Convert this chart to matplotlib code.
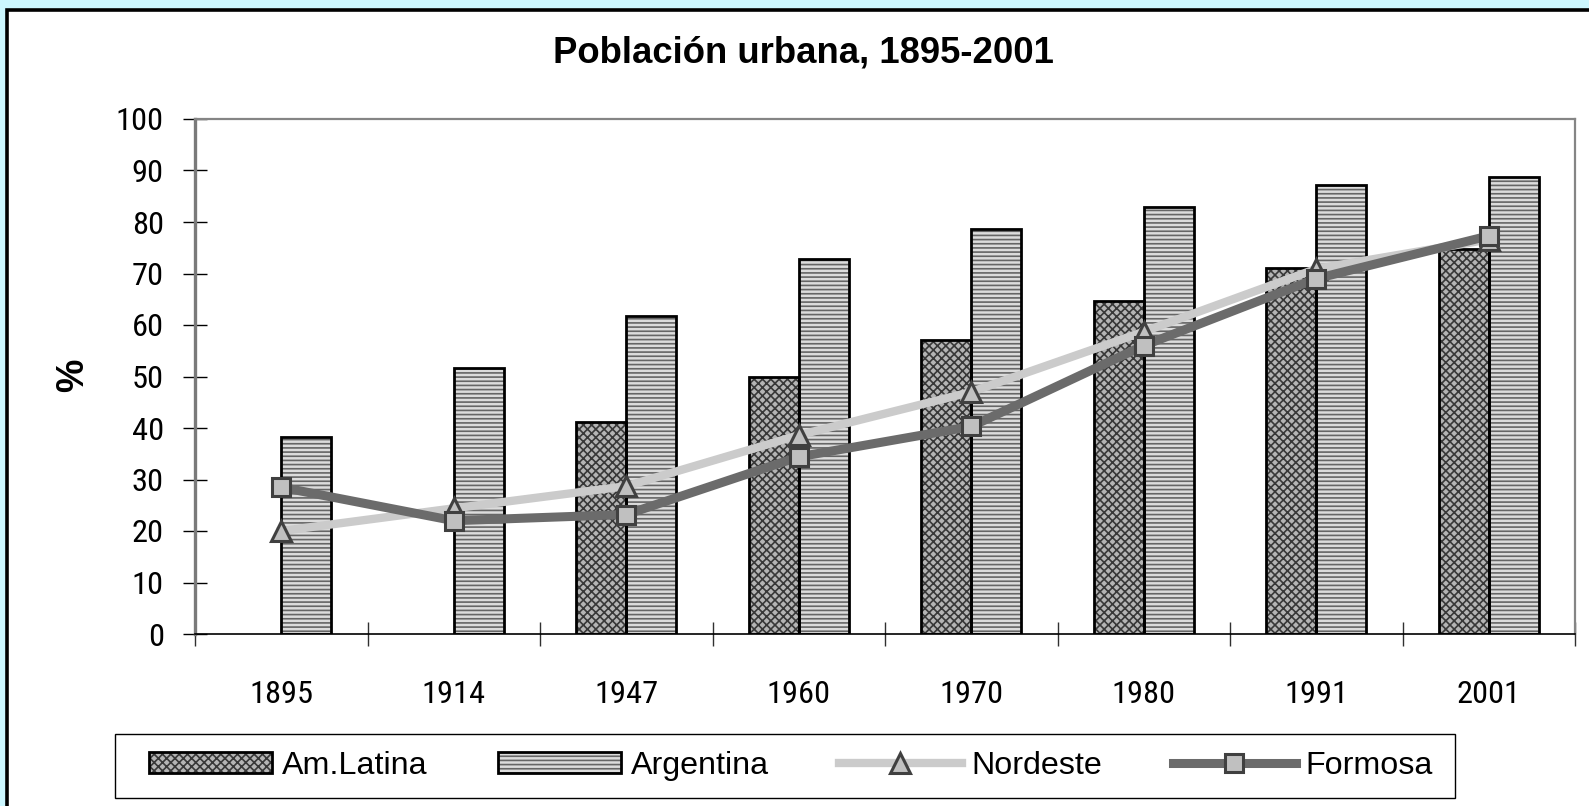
import os
import numpy as np
import matplotlib
matplotlib.use("Agg")
import matplotlib.pyplot as plt
from matplotlib import font_manager as fm
from matplotlib.textpath import TextPath
from matplotlib.patches import Rectangle, Patch
from matplotlib.lines import Line2D
from matplotlib.legend_handler import HandlerTuple

# ---------------- data ----------------
years = ['1895', '1914', '1947', '1960', '1970', '1980', '1991', '2001']
am_latina = [np.nan, np.nan, 41.1, 50.0, 57.0, 64.6, 71.0, 74.7]
argentina = [38.3, 51.7, 61.8, 72.9, 78.6, 82.9, 87.1, 88.8]
nordeste = [20.0, 24.4, 28.7, 38.6, 47.0, 58.7, 70.9, 76.6]
formosa = [28.5, 22.0, 23.2, 34.4, 40.3, 56.0, 69.0, 77.3]
series_names = ['Am.Latina', 'Argentina', 'Nordeste', 'Formosa']
title = 'Población urbana, 1895-2001'
y_ticks = list(range(0, 101, 10))

# ---------------- fonts ----------------
W, H = 1589, 806
DPI = 100


def pick_narrow():
    prefs = ['liberationsansnarrow-regular', 'arialn.', 'arial narrow',
             'robotocondensed-regular', 'roboto-condensed', 'opensanscondensed',
             'notosans-condensed.', 'dejavusanscondensed.']
    files = [e.fname for e in fm.fontManager.ttflist]
    for p in prefs:
        for f in files:
            if p in os.path.basename(f).lower():
                return fm.FontProperties(fname=f)
    return fm.FontProperties(family='Liberation Sans')


NARROW = pick_narrow()
REGULAR = fm.FontProperties(family=['Liberation Sans', 'DejaVu Sans'])


def fit_size(text, target_px, prop):
    w = TextPath((0, 0), text, size=100, prop=prop).get_extents().width
    return 100 * (target_px * 72 / DPI) / w


tick_size = min(fit_size('1895', 60, NARROW), 24)
leg_size = min(fit_size('Am.Latina', 145, REGULAR), 26)
tick_fp = NARROW.copy()
tick_fp.set_size(tick_size)
leg_fp = REGULAR.copy()
leg_fp.set_size(leg_size)

ARIAL = ['Liberation Sans', 'DejaVu Sans']
plt.rcParams['hatch.linewidth'] = 1.2

fig = plt.figure(figsize=(W / DPI, H / DPI), dpi=DPI, facecolor='#CCF7FF')

# white chart area with black border (extends off right/bottom)
fig.add_artist(Rectangle((7 / W, -0.2), 1.2, 1 - 10 / H + 0.2,
                         transform=fig.transFigure, facecolor='white',
                         edgecolor='black', linewidth=2.6, zorder=0))

ax = fig.add_axes([195 / W, 1 - 634 / H, (1575 - 195) / W, (634 - 119) / H])
ax.set_facecolor('none')
ax.set_zorder(2)

x = np.arange(len(years))
bw = 0.29

lat_face, lat_hatch = '#b4b4b4', '#383838'
arg_face, arg_hatch = '#dcdcdc', '#666666'

ax.bar(x - bw / 2, am_latina, bw, color=lat_face, edgecolor=lat_hatch,
       linewidth=0, hatch='xxxx', zorder=2)
ax.bar(x - bw / 2, am_latina, bw, fill=False, edgecolor='black',
       linewidth=2.0, zorder=3)
ax.bar(x + bw / 2, argentina, bw, color=arg_face, edgecolor=arg_hatch,
       linewidth=0, hatch='----', zorder=2)
ax.bar(x + bw / 2, argentina, bw, fill=False, edgecolor='black',
       linewidth=2.0, zorder=3)

nord_col = '#cbcbcb'
form_col = '#6b6b6b'
mface, medge = '#c0c0c0', '#404040'
nord_style = dict(color=nord_col, linewidth=6.0, marker='^', markersize=15,
                  markerfacecolor=mface, markeredgecolor=medge,
                  markeredgewidth=2.2)
form_style = dict(color=form_col, linewidth=6.5, marker='s', markersize=13,
                  markerfacecolor=mface, markeredgecolor=medge,
                  markeredgewidth=2.2)
ax.plot(x, nordeste, zorder=4, solid_joinstyle='round', **nord_style)
ax.plot(x, formosa, zorder=5, solid_joinstyle='round', **form_style)

ax.set_xlim(-0.5, len(years) - 0.5)
ax.set_ylim(0, 100)
ax.set_yticks(y_ticks)
ax.set_yticklabels([str(v) for v in y_ticks], fontproperties=tick_fp)
ax.tick_params(axis='y', direction='inout', length=17, width=1.0,
               color='black', pad=14)
ax.set_xticks(x)
ax.set_xticklabels(years, fontproperties=tick_fp)
ax.tick_params(axis='x', which='major', length=0, pad=33)
ax.set_xticks(np.arange(-0.5, len(years)), minor=True)
ax.tick_params(axis='x', which='minor', direction='inout', length=17,
               width=1.0, color='#303030')

ax.spines['left'].set_color('#7a7a7a')
ax.spines['left'].set_linewidth(2.4)
for s in ['top', 'right']:
    ax.spines[s].set_color('#858585')
    ax.spines[s].set_linewidth(1.6)
ax.spines['bottom'].set_color('black')
ax.spines['bottom'].set_linewidth(1.2)
ax.spines['bottom'].set_zorder(6)

# title and y label
fig.text(803 / W, 1 - 63 / H, title, ha='center', va='baseline',
         fontfamily=ARIAL, fontweight='bold', fontsize=26.3)
fig.text(73 / W, 1 - 375 / H, '%', ha='center', va='center', rotation=90,
         fontfamily=ARIAL, fontweight='bold', fontsize=27)

# legend
fig.add_artist(Rectangle((115 / W, 1 - 798 / H), (1455 - 115) / W, 64 / H,
                         transform=fig.transFigure, facecolor='white',
                         edgecolor='black', linewidth=1.0, zorder=1))
h_lat = (Patch(facecolor=lat_face, edgecolor=lat_hatch, linewidth=0, hatch='xxxx'),
         Patch(fill=False, edgecolor='black', linewidth=2.0))
h_arg = (Patch(facecolor=arg_face, edgecolor=arg_hatch, linewidth=0, hatch='----'),
         Patch(fill=False, edgecolor='black', linewidth=2.0))
h_nor = Line2D([], [], **nord_style)
h_for = Line2D([], [], **form_style)
fs_px = leg_size * DPI / 72
leg = fig.legend([h_lat, h_arg, h_nor, h_for], series_names,
                 handler_map={tuple: HandlerTuple(ndivide=1, pad=0)},
                 loc='center', bbox_to_anchor=(791 / W, 1 - 766 / H),
                 ncol=4, frameon=False, prop=leg_fp,
                 handlelength=123 / fs_px, handleheight=20 / fs_px,
                 handletextpad=10 / fs_px, columnspacing=70 / fs_px,
                 borderpad=0.2)
leg.set_zorder(3)

fig.savefig('out.png', dpi=DPI, facecolor=fig.get_facecolor())
